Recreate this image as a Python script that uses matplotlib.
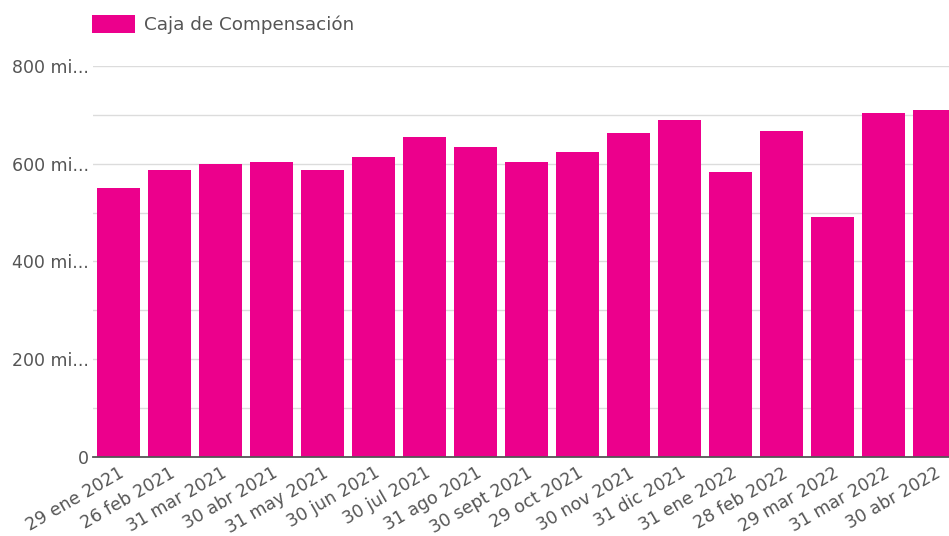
import matplotlib.pyplot as plt
from matplotlib.ticker import MultipleLocator

# fechas de cierre (eje x) y valores en millones
fechas = ['29 ene 2021', '26 feb 2021', '31 mar 2021', '30 abr 2021', '31 may 2021',
          '30 jun 2021', '30 jul 2021', '31 ago 2021', '30 sept 2021', '29 oct 2021',
          '30 nov 2021', '31 dic 2021', '31 ene 2022', '28 feb 2022', '29 mar 2022',
          '31 mar 2022', '30 abr 2022']
caja = [550, 588, 599, 603, 588, 613, 655, 634, 603, 623,
        663, 689, 583, 667, 491, 703, 709]
ytick_vals = [0, 200, 400, 600, 800]
ytick_labels = ['0', '200 mi...', '400 mi...', '600 mi...', '800 mi...']

color = '#EC008C'
txt = '#555555'
plt.rcParams['font.family'] = ['DejaVu Sans']

fig = plt.figure(figsize=(9.49, 5.36), dpi=100)
ax = fig.add_axes([0.098, 0.1474, 0.902, 0.7295])

x = range(len(caja))
ax.bar(x, caja, width=0.84, color=color, label='Caja de Compensación', zorder=3)

ax.set_xlim(-0.5, 16.28)
ax.set_ylim(0, 800)
ax.set_yticks(ytick_vals)
ax.set_yticklabels(ytick_labels, fontsize=12.5, color=txt)
ax.yaxis.set_minor_locator(MultipleLocator(100))
ax.grid(axis='y', which='both', color='#dcdcdc', linewidth=1, zorder=0)
ax.tick_params(axis='y', which='both', length=0, pad=3)

ax.set_xticks(list(x))
ax.set_xticklabels(fechas, rotation=30, ha='right', rotation_mode='anchor',
                   fontsize=12.5, color=txt)
ax.tick_params(axis='x', length=0, pad=5)

for s in ['top', 'right', 'left']:
    ax.spines[s].set_visible(False)
ax.spines['bottom'].set_color('#555555')
ax.spines['bottom'].set_linewidth(1.3)
ax.spines['bottom'].set_zorder(4)

ax.legend(loc='upper left', bbox_to_anchor=(0.097, 0.972), bbox_transform=fig.transFigure,
          frameon=False, fontsize=13.2, handlelength=2.35, handleheight=1.15,
          handletextpad=0.5, borderaxespad=0.0, borderpad=0.0, labelcolor=txt)

fig.savefig('out.png', dpi=100)
